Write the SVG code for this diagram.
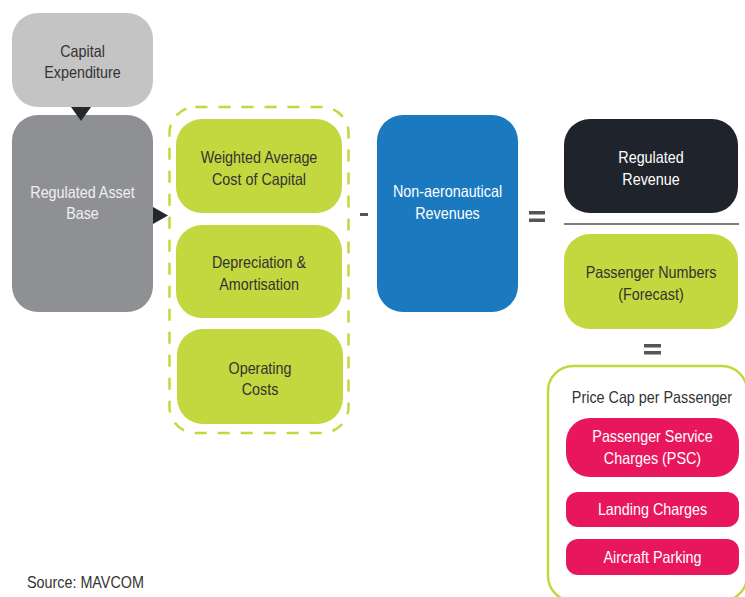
<svg xmlns="http://www.w3.org/2000/svg" width="745" height="597" viewBox="0 0 745 597">
  <style>
    .t { font-family: "Liberation Sans", Arial, sans-serif; font-size: 16.5px; text-anchor: middle; }
    .dark { fill: #333333; }
    .light { fill: #ffffff; }
    .soft { fill: #f0f0f0; }
    .green { fill: #c3d83f; }
    .pink { fill: #e8175d; }
  </style>
  <rect width="745" height="597" fill="#ffffff"/>

  <!-- Capital Expenditure -->
  <g id="capex">
    <rect x="12" y="13" width="141" height="94" rx="26" fill="#c4c4c4"/>
    <text class="t dark" transform="translate(82.5 57) scale(0.87 1)">Capital</text>
    <text class="t dark" transform="translate(82.5 78) scale(0.87 1)">Expenditure</text>
  </g>

  <!-- Regulated Asset Base -->
  <g id="rab">
    <rect x="12" y="115" width="141" height="197" rx="26" fill="#8f9094"/>
    <text class="t soft" transform="translate(82.5 198) scale(0.87 1)">Regulated Asset</text>
    <text class="t soft" transform="translate(82.5 219) scale(0.87 1)">Base</text>
  </g>

  <!-- Cost building blocks -->
  <g id="costs">
    <rect x="169.5" y="107" width="179" height="326" rx="26" fill="none" stroke="#c3d83f" stroke-width="2.5" stroke-dasharray="12 11"/>
  </g>
  <g id="wacc">
    <rect x="176" y="119" width="166" height="94" rx="26" class="green"/>
    <text class="t dark" transform="translate(259 163) scale(0.87 1)">Weighted Average</text>
    <text class="t dark" transform="translate(259 185) scale(0.87 1)">Cost of Capital</text>
  </g>
  <g id="depreciation">
    <rect x="176" y="225" width="166" height="93" rx="26" class="green"/>
    <text class="t dark" transform="translate(259 268) scale(0.87 1)">Depreciation &amp;</text>
    <text class="t dark" transform="translate(259 290) scale(0.87 1)">Amortisation</text>
  </g>
  <g id="opex">
    <rect x="177" y="329" width="166" height="95" rx="26" class="green"/>
    <text class="t dark" transform="translate(260 374) scale(0.87 1)">Operating</text>
    <text class="t dark" transform="translate(260 395) scale(0.87 1)">Costs</text>
  </g>

  <!-- Non-aeronautical Revenues -->
  <g id="nonaero">
    <rect x="377" y="115" width="141" height="197" rx="26" fill="#1a79bf"/>
    <text class="t light" transform="translate(447.5 197) scale(0.87 1)">Non-aeronautical</text>
    <text class="t light" transform="translate(447.5 219) scale(0.87 1)">Revenues</text>
  </g>

  <!-- Regulated Revenue / Passenger Numbers -->
  <g id="revenue">
    <rect x="564" y="119" width="174" height="94" rx="26" fill="#1f232c"/>
    <text class="t light" transform="translate(651 163) scale(0.87 1)">Regulated</text>
    <text class="t light" transform="translate(651 185) scale(0.87 1)">Revenue</text>
  </g>
  <g id="passengers">
    <rect x="564" y="234" width="174" height="95" rx="26" class="green"/>
    <text class="t dark" transform="translate(651 278) scale(0.87 1)">Passenger Numbers</text>
    <text class="t dark" transform="translate(651 300) scale(0.87 1)">(Forecast)</text>
  </g>

  <!-- Price cap per passenger -->
  <g id="pricecap">
    <rect x="548" y="366" width="199" height="235" rx="25" fill="none" stroke="#c3d83f" stroke-width="2.5"/>
    <text class="t dark" transform="translate(652 403) scale(0.87 1)">Price Cap per Passenger</text>
  </g>
  <g id="psc">
    <rect x="566" y="418" width="173" height="59" rx="24" class="pink"/>
    <text class="t light" transform="translate(652.5 442) scale(0.87 1)">Passenger Service</text>
    <text class="t light" transform="translate(652.5 464) scale(0.87 1)">Charges (PSC)</text>
  </g>
  <g id="landing">
    <rect x="566" y="492" width="173" height="35" rx="12" class="pink"/>
    <text class="t light" transform="translate(652.5 515) scale(0.87 1)">Landing Charges</text>
  </g>
  <g id="parking">
    <rect x="566" y="539" width="173" height="36" rx="12" class="pink"/>
    <text class="t light" transform="translate(652.5 563) scale(0.87 1)">Aircraft Parking</text>
  </g>

  <!-- Connectors and operators -->
  <g id="connectors">
    <polygon points="71,107 91,107 81,121" fill="#24272e"/>
    <polygon points="153,207 153,224 168,215.5" fill="#24272e"/>
    <rect x="360" y="213" width="8" height="3" fill="#555555"/>
    <rect x="529" y="211" width="16" height="3.5" fill="#555555"/>
    <rect x="529" y="218.5" width="16" height="3.5" fill="#555555"/>
    <line x1="564" y1="224" x2="739" y2="224" stroke="#555555" stroke-width="1.5"/>
    <rect x="644" y="344" width="17" height="3.5" fill="#555555"/>
    <rect x="644" y="351" width="17" height="3.5" fill="#555555"/>
  </g>

  <text class="t dark" style="text-anchor:start" transform="translate(27 588) scale(0.87 1)">Source: MAVCOM</text>
</svg>
